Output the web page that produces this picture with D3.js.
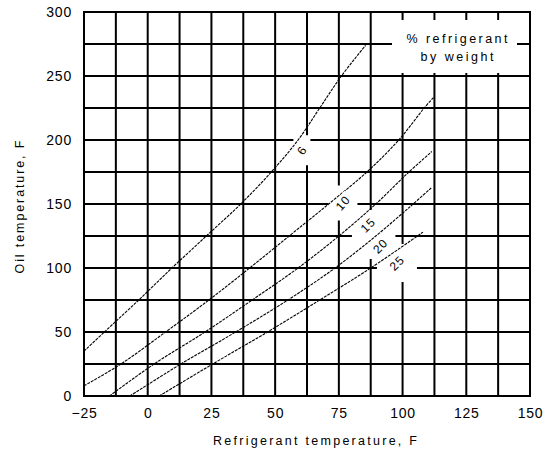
<!DOCTYPE html>
<html>
<head>
<meta charset="utf-8">
<script src="https://cdn.jsdelivr.net/npm/d3@7"></script>
<style>
  body { margin: 0; background: #fff; }
  text { font-family: "Liberation Sans", Arial, sans-serif; fill: #000; }
</style>
</head>
<body>
<script>
// layout
const WIDTH = 543;
const HEIGHT = 456;

let margin = {top: 12, right: 13, bottom: 60, left: 84},
    width = WIDTH - margin.left - margin.right,
    height = HEIGHT - margin.top - margin.bottom;

// data (refrigerant temp F, oil temp F)
const xTicks = [-25, 0, 25, 50, 75, 100, 125, 150];
const yTicks = [0, 50, 100, 150, 200, 250, 300];
const xGrid = [-25, -12.5, 0, 12.5, 25, 37.5, 50, 62.5, 75, 87.5, 100, 112.5, 125, 137.5, 150];
const yGrid = [0, 25, 50, 75, 100, 125, 150, 175, 200, 225, 250, 275, 300];

const curveNames = ["6", "10", "15", "20", "25"];
const curve6  = [[-25, 35], [-17, 50], [-3.5, 75], [9.5, 100], [23, 125], [36.5, 150], [48.5, 175], [59, 200], [67.5, 225], [76, 250], [85.5, 274]];
const curve10 = [[-25, 8], [-10.5, 25], [7, 50], [24, 75], [40, 100], [55.5, 125], [71, 150], [86, 175], [98.5, 200], [108.5, 225], [112.5, 234]];
const curve15 = [[-15, 0], [2.5, 25], [22.5, 50], [41, 75], [59, 100], [75, 125], [89.5, 150], [102.5, 175], [111.5, 191]];
const curve20 = [[-7, 0], [13, 25], [34.5, 50], [55, 75], [73.5, 100], [89.5, 125], [103, 148], [111.5, 163]];
const curve25 = [[4.5, 0], [25.5, 25], [47, 50], [67.5, 75], [87.5, 100], [108, 128]];
const curves = [curve6, curve10, curve15, curve20, curve25];

// where each curve label sits (data units)
const labelPos = [[60.5, 192], [76.6, 150.8], [86.4, 133.6], [91.3, 117.2], [97.8, 103.9]];

const legendLines = ["% refrigerant", "by weight"];

// styling bits
const labelAngle = [-58, -48, -45, -45, -45];
const gapSize = [[17, 30], [29, 35], [32, 30], [30, 26], [40, 38]];

let chart = d3.select("body").append("svg")
        .attr("width", WIDTH)
        .attr("height", HEIGHT)
    .append("g")
        .attr("transform", "translate(" + margin.left + "," + margin.top + ")");

let xScale = d3.scaleLinear()
    .domain([-25, 150])
    .range([0, width]);

let yScale = d3.scaleLinear()
    .domain([0, 300])
    .range([height, 0]);

// grid
chart.append("g").selectAll("line")
    .data(xGrid)
    .enter().append("line")
        .attr("x1", d => xScale(d))
        .attr("x2", d => xScale(d))
        .attr("y1", 0)
        .attr("y2", height)
        .attr("stroke", "#000")
        .attr("stroke-width", 2);

chart.append("g").selectAll("line")
    .data(yGrid)
    .enter().append("line")
        .attr("x1", 0)
        .attr("x2", width)
        .attr("y1", d => yScale(d))
        .attr("y2", d => yScale(d))
        .attr("stroke", "#000")
        .attr("stroke-width", 2);

// white patches that break the grid around the labels
chart.append("rect")
    .attr("x", 308)
    .attr("y", 8)
    .attr("width", 125)
    .attr("height", 53)
    .attr("fill", "#fff");

chart.append("g").selectAll("rect")
    .data(labelPos)
    .enter().append("rect")
        .attr("x", (d, i) => xScale(d[0]) - gapSize[i][0] / 2)
        .attr("y", (d, i) => yScale(d[1]) - gapSize[i][1] / 2)
        .attr("width", (d, i) => gapSize[i][0])
        .attr("height", (d, i) => gapSize[i][1])
        .attr("fill", "#fff");

// frame
chart.append("rect")
    .attr("width", width)
    .attr("height", height)
    .attr("fill", "none")
    .attr("stroke", "#000")
    .attr("stroke-width", 2);

// curves
let line = d3.line()
    .x(d => xScale(d[0]))
    .y(d => yScale(d[1]))
    .curve(d3.curveCatmullRom);

chart.append("g").selectAll("path")
    .data(curves)
    .enter().append("path")
        .attr("d", line)
        .attr("fill", "none")
        .attr("stroke", "#000")
        .attr("stroke-width", 1.1)
        .attr("stroke-dasharray", "3,1");

// curve labels
let labels = chart.append("g").selectAll("g")
    .data(curveNames)
    .enter().append("g")
        .attr("transform", (d, i) => "translate(" + xScale(labelPos[i][0]) + "," + yScale(labelPos[i][1]) + ") rotate(" + labelAngle[i] + ")");

labels.append("rect")
    .attr("x", d => -d.length * 4 - 2)
    .attr("y", -7)
    .attr("width", d => d.length * 8 + 4)
    .attr("height", 14)
    .attr("fill", "#fff");

labels.append("text")
    .attr("text-anchor", "middle")
    .attr("dy", "0.35em")
    .attr("font-size", 12)
    .style("letter-spacing", "1px")
    .text(d => d);

// legend
chart.append("g").selectAll("text")
    .data(legendLines)
    .enter().append("text")
        .attr("x", 373)
        .attr("y", (d, i) => 31 + i * 18)
        .attr("text-anchor", "middle")
        .attr("font-size", 12.5)
        .attr("textLength", (d, i) => i === 0 ? 101 : 73)
        .attr("lengthAdjust", "spacing")
        .text(d => d);

// axes (labels only)
let xAxis = chart.append("g")
    .attr("transform", "translate(0," + height + ")")
    .call(d3.axisBottom(xScale).tickValues(xTicks).tickSize(0).tickPadding(12));

let yAxis = chart.append("g")
    .call(d3.axisLeft(yScale).tickValues(yTicks).tickSize(0).tickPadding(12));

[xAxis, yAxis].forEach(a => {
    a.select(".domain").remove();
    a.attr("font-family", null).attr("font-size", null);
    a.selectAll("text")
        .attr("font-size", 14)
        .style("letter-spacing", "0.8px");
});

// axis titles
chart.append("text")
    .attr("x", width / 2 + 8)
    .attr("y", height + 49)
    .attr("text-anchor", "middle")
    .attr("font-size", 12.5)
    .attr("textLength", 204)
    .attr("lengthAdjust", "spacing")
    .text("Refrigerant temperature, F");

chart.append("text")
    .attr("transform", "rotate(-90)")
    .attr("x", -195)
    .attr("y", -60)
    .attr("text-anchor", "middle")
    .attr("font-size", 12.5)
    .attr("textLength", 133)
    .attr("lengthAdjust", "spacing")
    .text("Oil temperature, F");
</script>
</body>
</html>
